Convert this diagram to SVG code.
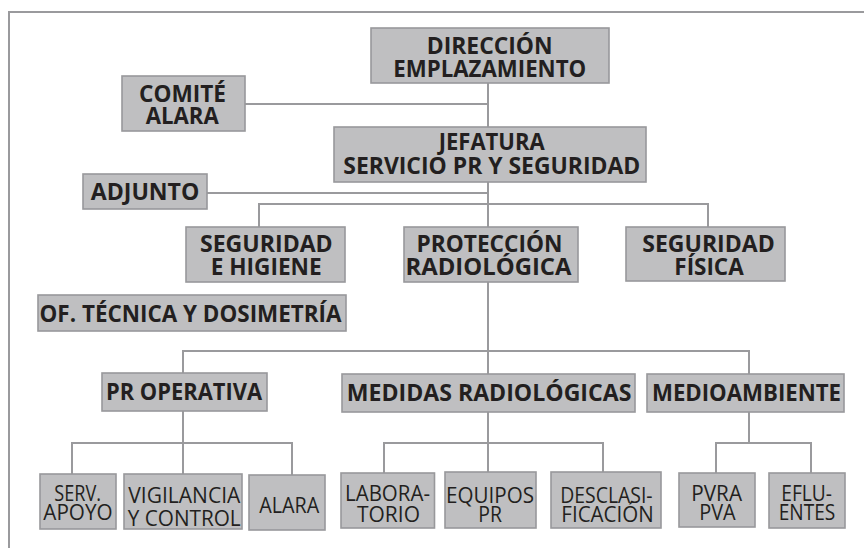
<svg xmlns="http://www.w3.org/2000/svg" width="864" height="548" viewBox="0 0 864 548">
<style>
.box{fill:#bfbfc1;stroke:#98989b;stroke-width:1.6}
.b{font-family:"Open Sans","Noto Sans","Liberation Sans",sans-serif;font-weight:700;font-size:24px;fill:#231f20}
.r{font-family:"Open Sans","Noto Sans","Liberation Sans",sans-serif;font-weight:400;font-size:22px;fill:#231f20}
.s{font-size:21px}
.ln{fill:none;stroke:#9a9a9d;stroke-width:2}
</style>
<rect width="864" height="548" fill="#ffffff"/>
<path class="ln" d="M9,548 V12 H864" stroke-width="1.6"/>
<g id="connectors">
<path class="ln" d="M488,83 V127"/>
<path class="ln" d="M245,104 H488"/>
<path class="ln" d="M207,193 H488"/>
<path class="ln" d="M488,182 V227"/>
<path class="ln" d="M259,227 V204 H708 V227"/>
<path class="ln" d="M488,282 V374"/>
<path class="ln" d="M183,373 V351 H749 V374"/>
<path class="ln" d="M183,411 V474"/>
<path class="ln" d="M72,474 V443 H292 V475"/>
<path class="ln" d="M488,412 V472"/>
<path class="ln" d="M384,473 V443 H603 V472"/>
<path class="ln" d="M749,412 V443"/>
<path class="ln" d="M716,473 V443 H811 V473"/>
</g>
<g id="direccion"><rect class="box" x="371" y="28" width="238" height="55"/>
<text class="b" x="426.7" y="54" textLength="126" lengthAdjust="spacingAndGlyphs">DIRECCIÓN</text>
<text class="b" x="393.3" y="77" textLength="193" lengthAdjust="spacingAndGlyphs">EMPLAZAMIENTO</text></g>
<g id="comite"><rect class="box" x="122" y="76" width="123" height="55"/>
<text class="b" x="139" y="101.5" textLength="87" lengthAdjust="spacingAndGlyphs">COMITÉ</text>
<text class="b" x="145.7" y="124" textLength="73" lengthAdjust="spacingAndGlyphs">ALARA</text></g>
<g id="jefatura"><rect class="box" x="334" y="127" width="312" height="55"/>
<text class="b" x="438.7" y="150" textLength="106" lengthAdjust="spacingAndGlyphs">JEFATURA</text>
<text class="b" x="343.3" y="174" textLength="297" lengthAdjust="spacingAndGlyphs">SERVICIO PR Y SEGURIDAD</text></g>
<g id="adjunto"><rect class="box" x="83" y="174" width="124" height="35"/>
<text class="b" x="90.7" y="200" textLength="108.7" lengthAdjust="spacingAndGlyphs">ADJUNTO</text></g>
<g id="seguridad-higiene"><rect class="box" x="186" y="227" width="159" height="55"/>
<text class="b" x="200" y="252" textLength="132.7" lengthAdjust="spacingAndGlyphs">SEGURIDAD</text>
<text class="b" x="210.7" y="275" textLength="111" lengthAdjust="spacingAndGlyphs">E HIGIENE</text></g>
<g id="proteccion"><rect class="box" x="404" y="227" width="174" height="55"/>
<text class="b" x="416.5" y="252" textLength="146" lengthAdjust="spacingAndGlyphs">PROTECCIÓN</text>
<text class="b" x="405.5" y="275" textLength="166" lengthAdjust="spacingAndGlyphs">RADIOLÓGICA</text></g>
<g id="seguridad-fisica"><rect class="box" x="626" y="227" width="159" height="54"/>
<text class="b" x="642.3" y="252" textLength="132.4" lengthAdjust="spacingAndGlyphs">SEGURIDAD</text>
<text class="b" x="674.3" y="275" textLength="69.4" lengthAdjust="spacingAndGlyphs">FÍSICA</text></g>
<g id="oficina-tecnica"><rect class="box" x="38" y="295" width="308" height="36"/>
<text class="b" x="39.5" y="321.5" textLength="302" lengthAdjust="spacingAndGlyphs">OF. TÉCNICA Y DOSIMETRÍA</text></g>
<g id="pr-operativa"><rect class="box" x="102" y="373" width="165" height="38"/>
<text class="b" x="106" y="400" textLength="156" lengthAdjust="spacingAndGlyphs">PR OPERATIVA</text></g>
<g id="medidas"><rect class="box" x="342" y="374" width="293" height="38"/>
<text class="b" x="346.7" y="400.5" textLength="284.7" lengthAdjust="spacingAndGlyphs">MEDIDAS RADIOLÓGICAS</text></g>
<g id="medioambiente"><rect class="box" x="647" y="374" width="197" height="38"/>
<text class="b" x="652" y="400.5" textLength="189" lengthAdjust="spacingAndGlyphs">MEDIOAMBIENTE</text></g>
<g id="serv-apoyo"><rect class="box" x="40" y="474" width="76" height="55"/>
<text class="r s" x="54.3" y="500.5" textLength="46.7" lengthAdjust="spacingAndGlyphs">SERV.</text>
<text class="r s" x="43.3" y="520" textLength="69.3" lengthAdjust="spacingAndGlyphs">APOYO</text></g>
<g id="vigilancia"><rect class="box" x="124" y="474" width="118" height="55"/>
<text class="r" x="128.3" y="503" textLength="112" lengthAdjust="spacingAndGlyphs">VIGILANCIA</text>
<text class="r" x="127.7" y="525.5" textLength="113" lengthAdjust="spacingAndGlyphs">Y CONTROL</text></g>
<g id="alara"><rect class="box" x="249" y="475" width="76" height="55"/>
<text class="r" x="259.3" y="513" textLength="60" lengthAdjust="spacingAndGlyphs">ALARA</text></g>
<g id="laboratorio"><rect class="box" x="341" y="473" width="93.5" height="55"/>
<text class="r" x="345" y="501" textLength="85" lengthAdjust="spacingAndGlyphs">LABORA-</text>
<text class="r" x="357" y="521.7" textLength="63" lengthAdjust="spacingAndGlyphs">TORIO</text></g>
<g id="equipos"><rect class="box" x="445" y="472" width="91" height="56"/>
<text class="r" x="446" y="503" textLength="88" lengthAdjust="spacingAndGlyphs">EQUIPOS</text>
<text class="r" x="478.3" y="521.7" textLength="23.7" lengthAdjust="spacingAndGlyphs">PR</text></g>
<g id="desclasificacion"><rect class="box" x="551" y="472" width="110" height="56"/>
<text class="r" x="560.3" y="502.7" textLength="92.3" lengthAdjust="spacingAndGlyphs">DESCLASI-</text>
<text class="r" x="561.3" y="521.7" textLength="92.4" lengthAdjust="spacingAndGlyphs">FICACIÓN</text></g>
<g id="pvra"><rect class="box" x="679" y="473" width="76" height="54"/>
<text class="r s" x="691.3" y="500.7" textLength="50.7" lengthAdjust="spacingAndGlyphs">PVRA</text>
<text class="r s" x="699.3" y="520" textLength="36.4" lengthAdjust="spacingAndGlyphs">PVA</text></g>
<g id="efluentes"><rect class="box" x="769" y="473" width="76" height="55"/>
<text class="r s" x="781.3" y="500.7" textLength="50.7" lengthAdjust="spacingAndGlyphs">EFLU-</text>
<text class="r s" x="778.7" y="520" textLength="56.6" lengthAdjust="spacingAndGlyphs">ENTES</text></g>
</svg>
